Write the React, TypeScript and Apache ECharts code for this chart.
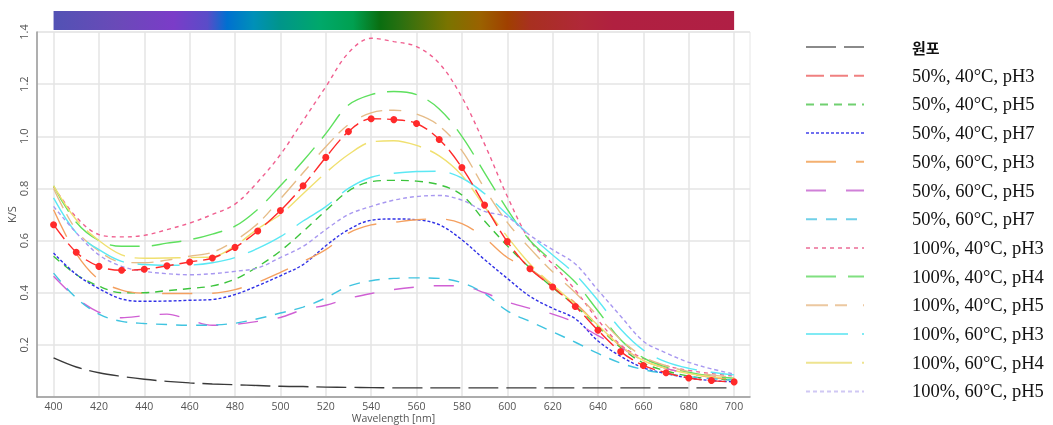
import React, { useEffect, useRef } from "react";
import * as echarts from "echarts";

const wavelengths = [400, 410, 420, 430, 440, 450, 460, 470, 480, 490, 500, 510, 520, 530, 540, 550, 560, 570, 580, 590, 600, 610, 620, 630, 640, 650, 660, 670, 680, 690, 700];
const xTicks = [400, 420, 440, 460, 480, 500, 520, 540, 560, 580, 600, 620, 640, 660, 680, 700];

const seriesNames = [
  "원포",
  "50%, 40°C, pH3",
  "50%, 40°C, pH5",
  "50%, 40°C, pH7",
  "50%, 60°C, pH3",
  "50%, 60°C, pH5",
  "50%, 60°C, pH7",
  "100%, 40°C, pH3",
  "100%, 40°C, pH4",
  "100%, 40°C, pH5",
  "100%, 60°C, pH3",
  "100%, 60°C, pH4",
  "100%, 60°C, pH5",
];

const raw = [0.150, 0.115, 0.093, 0.079, 0.068, 0.060, 0.054, 0.050, 0.047, 0.044, 0.041, 0.040, 0.038, 0.037, 0.036, 0.035, 0.035, 0.035, 0.035, 0.035, 0.035, 0.035, 0.035, 0.035, 0.035, 0.035, 0.035, 0.035, 0.035, 0.035, 0.035];
const c50t40pH3 = [0.661, 0.555, 0.501, 0.486, 0.490, 0.503, 0.518, 0.533, 0.574, 0.637, 0.715, 0.810, 0.919, 1.018, 1.067, 1.064, 1.049, 0.988, 0.880, 0.736, 0.596, 0.492, 0.422, 0.347, 0.256, 0.174, 0.121, 0.093, 0.073, 0.063, 0.058];
const c50t40pH5 = [0.540, 0.470, 0.425, 0.400, 0.400, 0.408, 0.416, 0.426, 0.452, 0.500, 0.560, 0.635, 0.715, 0.790, 0.826, 0.831, 0.828, 0.814, 0.775, 0.675, 0.580, 0.495, 0.420, 0.350, 0.270, 0.190, 0.130, 0.100, 0.080, 0.070, 0.065];
const c50t40pH7 = [0.552, 0.470, 0.416, 0.376, 0.367, 0.368, 0.371, 0.374, 0.393, 0.427, 0.465, 0.508, 0.580, 0.642, 0.678, 0.683, 0.680, 0.661, 0.603, 0.527, 0.455, 0.386, 0.340, 0.300, 0.215, 0.156, 0.112, 0.090, 0.073, 0.063, 0.058];
const c50t60pH3 = [0.718, 0.550, 0.450, 0.410, 0.398, 0.397, 0.397, 0.398, 0.412, 0.440, 0.478, 0.520, 0.565, 0.629, 0.660, 0.670, 0.680, 0.683, 0.665, 0.610, 0.535, 0.490, 0.430, 0.360, 0.275, 0.195, 0.140, 0.110, 0.090, 0.075, 0.068];
const c50t60pH5 = [0.463, 0.380, 0.325, 0.304, 0.312, 0.318, 0.295, 0.275, 0.279, 0.290, 0.305, 0.335, 0.352, 0.378, 0.397, 0.412, 0.422, 0.427, 0.425, 0.400, 0.365, 0.340, 0.318, 0.285, 0.235, 0.190, 0.140, 0.110, 0.090, 0.080, 0.072];
const c50t60pH7 = [0.475, 0.380, 0.318, 0.290, 0.282, 0.278, 0.275, 0.276, 0.283, 0.300, 0.322, 0.345, 0.380, 0.425, 0.446, 0.455, 0.457, 0.455, 0.438, 0.397, 0.330, 0.290, 0.250, 0.210, 0.167, 0.130, 0.105, 0.090, 0.078, 0.070, 0.065];
const c100t40pH3 = [0.807, 0.690, 0.623, 0.614, 0.620, 0.642, 0.667, 0.700, 0.740, 0.825, 0.930, 1.060, 1.190, 1.320, 1.376, 1.363, 1.344, 1.280, 1.150, 0.970, 0.770, 0.600, 0.510, 0.410, 0.295, 0.200, 0.148, 0.120, 0.102, 0.090, 0.080];
const c100t40pH4 = [0.810, 0.670, 0.600, 0.578, 0.578, 0.590, 0.603, 0.625, 0.655, 0.720, 0.810, 0.905, 1.010, 1.120, 1.160, 1.172, 1.160, 1.105, 1.000, 0.860, 0.720, 0.600, 0.520, 0.440, 0.330, 0.220, 0.150, 0.115, 0.095, 0.080, 0.072];
const c100t40pH5 = [0.800, 0.640, 0.560, 0.517, 0.515, 0.525, 0.540, 0.555, 0.600, 0.665, 0.760, 0.860, 0.960, 1.045, 1.090, 1.100, 1.085, 1.040, 0.945, 0.800, 0.670, 0.570, 0.480, 0.400, 0.310, 0.220, 0.155, 0.120, 0.098, 0.085, 0.075];
const c100t60pH3 = [0.764, 0.630, 0.565, 0.520, 0.508, 0.505, 0.506, 0.515, 0.535, 0.570, 0.615, 0.675, 0.730, 0.800, 0.843, 0.858, 0.865, 0.866, 0.840, 0.780, 0.700, 0.620, 0.545, 0.470, 0.370, 0.260, 0.180, 0.135, 0.110, 0.095, 0.085];
const c100t60pH4 = [0.810, 0.680, 0.600, 0.545, 0.532, 0.533, 0.535, 0.537, 0.580, 0.645, 0.700, 0.780, 0.860, 0.930, 0.978, 0.983, 0.965, 0.925, 0.850, 0.730, 0.615, 0.510, 0.430, 0.355, 0.275, 0.195, 0.140, 0.110, 0.090, 0.078, 0.070];
const c100t60pH5 = [0.731, 0.630, 0.545, 0.501, 0.482, 0.473, 0.469, 0.473, 0.482, 0.495, 0.535, 0.578, 0.642, 0.700, 0.731, 0.755, 0.769, 0.773, 0.755, 0.712, 0.690, 0.620, 0.565, 0.510, 0.410, 0.310, 0.214, 0.169, 0.133, 0.108, 0.088];

const seriesValues = [raw, c50t40pH3, c50t40pH5, c50t40pH7, c50t60pH3, c50t60pH5, c50t60pH7, c100t40pH3, c100t40pH4, c100t40pH5, c100t60pH3, c100t60pH4, c100t60pH5];

const lineColors = ["#3a3a3a", "#ff2a2a", "#3cc43c", "#3030e6", "#f4a060", "#d060d4", "#40c4e0", "#f06090", "#5ee05e", "#e6bc88", "#5ce8f4", "#f0e070", "#a898f0"];
const legendColors = ["#8a8a8a", "#f08080", "#70d070", "#7070f0", "#f4b070", "#d080d8", "#70d0e8", "#f090b0", "#80e080", "#ecc8a0", "#80eaf4", "#eee490", "#d0c8f4"];
const dashes = [[30, 8], [18, 6], [8, 6], [3, 2], [30, 20], [20, 20], [11, 9], [4, 4], [30, 12], [22, 7, 12, 16], [42, 14], [46, 10], [4, 3]];

const spectrumStops = [
  [0, "#5252b4"], [0.094, "#6a4ab8"], [0.176, "#7b3cc8"], [0.226, "#5a4cc8"], [0.255, "#0070d0"],
  [0.294, "#0090b8"], [0.333, "#00958a"], [0.392, "#00a86a"], [0.44, "#00a050"], [0.48, "#0a6e10"],
  [0.51, "#2a7010"], [0.579, "#7a7400"], [0.627, "#9a6200"], [0.667, "#a04000"], [0.70, "#a83020"],
  [0.775, "#b02838"], [0.823, "#b02040"], [1, "#b01f45"],
];

export default function App() {
  const ref = useRef<HTMLDivElement>(null);
  useEffect(() => {
    if (!ref.current) return;
    const chart = echarts.init(ref.current, null, { renderer: "svg" });
    const series = seriesNames.map((name, i) => ({
      name,
      type: "line",
      smooth: 0.35,
      showSymbol: i === 1,
      symbol: "circle",
      symbolSize: 7,
      z: i === 1 ? 5 : 2,
      itemStyle: { color: lineColors[i] },
      lineStyle: { color: lineColors[i], width: 1.4, type: dashes[i] },
      data: wavelengths.map((w, k) => [w, seriesValues[i][k]]),
    }));
    const legendData = seriesNames.map((name, i) => ({
      name,
      itemStyle: { color: "rgba(0,0,0,0)", borderWidth: 0, opacity: 0 },
      lineStyle: { color: legendColors[i], width: 2, type: dashes[i] },
      textStyle: i === 0 ? { fontWeight: "bold", fontFamily: "Noto Sans CJK KR", fontSize: 15 } : undefined,
    }));
    chart.setOption({
      animation: false,
      grid: {
        left: 37, right: 303, top: 32, bottom: 28,
        outerBoundsMode: "none",
        containLabel: false,
        show: true, borderColor: "#e6e6e6", borderWidth: 1,
      },
      legend: {
        orient: "vertical",
        left: 800,
        top: 32,
        itemWidth: 58,
        itemHeight: 14,
        itemGap: 8.7,
        data: legendData,
        textStyle: {
          fontFamily: "Liberation Serif, Noto Sans CJK KR, serif",
          fontSize: 18.5,
          lineHeight: 20,
          color: "#111",
          padding: [0, 0, 0, 43],
        },
      },
      xAxis: {
        type: "value",
        min: 392.7,
        max: 707,
        name: "Wavelength [nm]",
        nameLocation: "middle",
        nameGap: 15,
        nameMoveOverlap: false,
        nameTextStyle: { color: "#555", fontSize: 10.5, fontFamily: "Open Sans, sans-serif", lineHeight: 11 },
        axisLine: { show: true, lineStyle: { color: "#999", width: 1.5 } },
        axisTick: { show: false, customValues: xTicks },
        axisLabel: { customValues: xTicks, color: "#555", fontSize: 10.5, fontFamily: "Open Sans, sans-serif", margin: 3, lineHeight: 11 },
        splitLine: { show: true, lineStyle: { color: "#e4e4e4", width: 1.5 } },
      },
      yAxis: {
        type: "value",
        min: 0,
        max: 1.4,
        interval: 0.2,
        name: "K/S",
        nameLocation: "middle",
        nameGap: 20,
        nameRotate: 90,
        nameMoveOverlap: false,
        nameTextStyle: { color: "#555", fontSize: 11, fontFamily: "Open Sans, sans-serif" },
        axisLine: { show: true, lineStyle: { color: "#999", width: 1.5 } },
        axisTick: { show: false },
        axisLabel: {
          rotate: 90,
          color: "#555",
          fontSize: 11,
          fontFamily: "Open Sans, sans-serif",
          margin: 8,
          formatter: (v: number) => (v === 0 ? "" : v.toFixed(1)),
        },
        splitLine: { show: true, lineStyle: { color: "#e4e4e4", width: 1.5 } },
      },
      series,
    });
    const x0 = chart.convertToPixel({ xAxisIndex: 0 }, wavelengths[0]) as number;
    const x1 = chart.convertToPixel({ xAxisIndex: 0 }, wavelengths[wavelengths.length - 1]) as number;
    chart.setOption({
      graphic: [
        {
          type: "rect",
          shape: { x: x0, y: 11, width: x1 - x0, height: 19 },
          style: {
            fill: new echarts.graphic.LinearGradient(0, 0, 1, 0, spectrumStops.map(([o, c]) => ({ offset: o as number, color: c as string }))),
          },
          silent: true,
        },
      ],
    });
    return () => chart.dispose();
  }, []);
  return <div ref={ref} style={{ position: "fixed", left: 0, top: 0, width: 1053, height: 425 }} />;
}
